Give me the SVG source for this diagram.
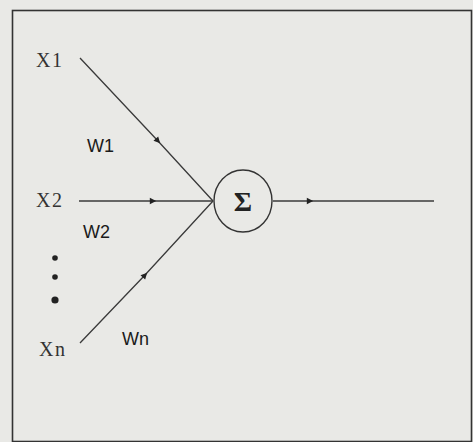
<svg xmlns="http://www.w3.org/2000/svg" width="473" height="442" viewBox="0 0 473 442">
<style>
.x{font-family:"Liberation Serif","Times New Roman",serif;font-size:20px;letter-spacing:1.5px;fill:#333}
.w{font-family:"Liberation Sans",Arial,sans-serif;font-size:18px;fill:#1a1a1a}
.ln{fill:none;stroke:#3a3a3a;stroke-width:1.3;marker-mid:url(#arr)}
</style>
<defs>
<marker id="arr" viewBox="0 0 10 10" refX="5" refY="5" markerWidth="8" markerHeight="8" markerUnits="userSpaceOnUse" orient="auto">
<path d="M1,1 L9,5 L1,9 Z" fill="#222"/>
</marker>
</defs>
<rect x="0" y="0" width="473" height="442" fill="#e9e9e6"/>
<rect x="12.5" y="10.5" width="459" height="431" fill="none" stroke="#333" stroke-width="1.6"/>
<g id="connectors">
<polyline class="ln" points="80,58 158,141 213,201"/>
<polyline class="ln" points="79,201 153,201 213,201"/>
<polyline class="ln" points="80,343 145,275 213,201"/>
<polyline class="ln" points="273,201 310,201 434,201"/>
</g>
<g id="x1"><text class="x" x="36" y="67">X1</text></g>
<g id="x2"><text class="x" x="36" y="207">X2</text></g>
<g id="xn"><text class="x" x="39" y="356">Xn</text></g>
<g id="w1"><text class="w" x="87" y="152">W1</text></g>
<g id="w2"><text class="w" x="83" y="238">W2</text></g>
<g id="wn"><text class="w" x="122" y="345">Wn</text></g>
<g id="dots" fill="#222">
<circle cx="55" cy="258" r="2.8"/>
<circle cx="55" cy="277" r="2.8"/>
<circle cx="55" cy="300" r="3.6"/>
</g>
<g id="sum">
<ellipse cx="243" cy="201" rx="29" ry="31" fill="none" stroke="#333" stroke-width="1.4"/>
<text x="243" y="211" text-anchor="middle" font-family="Liberation Serif,serif" font-weight="bold" font-size="28" fill="#222">Σ</text>
</g>
</svg>
